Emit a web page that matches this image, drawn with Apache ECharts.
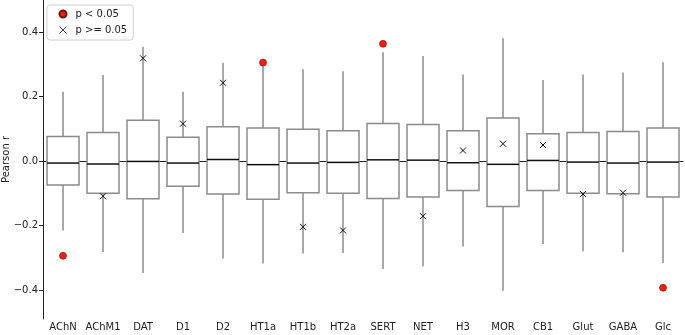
<!DOCTYPE html>
<html>
<head>
<meta charset="utf-8">
<script src="https://cdn.jsdelivr.net/npm/echarts@6/dist/echarts.min.js"></script>
<style>
  html, body { margin: 0; padding: 0; background: #fff; }
  #chart { width: 685px; height: 335px; }
</style>
</head>
<body>
<div id="chart"></div>
<script>
  const receptors = ['AChN', 'AChM1', 'DAT', 'D1', 'D2', 'HT1a', 'HT1b', 'HT2a', 'SERT', 'NET', 'H3', 'MOR', 'CB1', 'Glut', 'GABA', 'Glc']

  // null distribution summaries: [low whisker, q1, median, q3, high whisker]
  const whiskerLow = [-0.215, -0.282, -0.347, -0.223, -0.302, -0.318, -0.287, -0.285, -0.335, -0.326, -0.265, -0.402, -0.257, -0.280, -0.283, -0.316]
  const q1 = [-0.074, -0.100, -0.117, -0.078, -0.102, -0.118, -0.098, -0.100, -0.116, -0.111, -0.091, -0.141, -0.091, -0.100, -0.101, -0.111]
  const median = [-0.006, -0.009, -0.001, -0.006, 0.005, -0.011, -0.006, -0.004, 0.004, 0.003, -0.005, -0.010, 0.002, -0.003, -0.006, -0.003]
  const q3 = [0.076, 0.089, 0.127, 0.074, 0.107, 0.103, 0.099, 0.094, 0.117, 0.114, 0.094, 0.134, 0.085, 0.089, 0.092, 0.103]
  const whiskerHigh = [0.215, 0.267, 0.355, 0.215, 0.305, 0.300, 0.285, 0.279, 0.338, 0.326, 0.269, 0.381, 0.252, 0.269, 0.275, 0.307]

  // observed correlation and significance
  const observedR = [-0.294, -0.109, 0.319, 0.116, 0.243, 0.306, -0.204, -0.215, 0.364, -0.171, 0.033, 0.054, 0.050, -0.102, -0.098, -0.393]
  const significant = [true, false, false, false, false, true, false, false, true, false, false, false, false, false, false, true]

  const yTicks = [-0.4, -0.2, 0.0, 0.2, 0.4]

  const boxData = receptors.map((r, i) => [i, whiskerLow[i], q1[i], median[i], q3[i], whiskerHigh[i]])
  const sigData = []
  const nsData = []
  observedR.forEach((v, i) => {
    if (significant[i]) sigData.push([i, v])
    else nsData.push([i, v])
  })

  const boxGray = '#8c8c8c'
  const crossPath = 'path://M0,0L10,10M10,0L0,10'

  function renderBox(params, api) {
    const x = api.value(0)
    const lo = api.coord([x, api.value(1)])
    const b1 = api.coord([x, api.value(2)])
    const md = api.coord([x, api.value(3)])
    const b3 = api.coord([x, api.value(4)])
    const hi = api.coord([x, api.value(5)])
    const w = api.size([1, 0])[0] * 0.8
    const cx = lo[0]
    return {
      type: 'group',
      children: [
        { type: 'line', shape: { x1: cx, y1: b1[1], x2: cx, y2: lo[1] }, style: { stroke: boxGray, lineWidth: 1.5 } },
        { type: 'line', shape: { x1: cx, y1: b3[1], x2: cx, y2: hi[1] }, style: { stroke: boxGray, lineWidth: 1.5 } },
        { type: 'rect', shape: { x: cx - w / 2, y: b3[1], width: w, height: b1[1] - b3[1] }, style: { fill: '#fff', stroke: boxGray, lineWidth: 1.5 } },
        { type: 'line', shape: { x1: cx - w / 2, y1: md[1], x2: cx + w / 2, y2: md[1] }, style: { stroke: '#111', lineWidth: 1.5 } }
      ]
    }
  }

  const chart = echarts.init(document.getElementById('chart'))

  const option = {
    animation: false,
    textStyle: { fontFamily: 'DejaVu Sans' },
    grid: { left: 43, right: 2, top: 0, bottom: 16, outerBoundsMode: 'none' },
    legend: {
      data: [
        { name: 'p < 0.05', icon: 'circle' },
        { name: 'p >= 0.05', icon: crossPath, itemStyle: { borderWidth: 0.8 } }
      ],
      orient: 'vertical',
      left: 47,
      top: 5,
      itemWidth: 7,
      itemHeight: 7,
      itemGap: 5,
      padding: [4, 6, 4, 10],
      borderColor: '#d0d0d0',
      borderWidth: 1,
      borderRadius: 3,
      backgroundColor: '#fff',
      textStyle: { fontSize: 10, color: '#222', padding: [0, 0, 0, 4] }
    },
    xAxis: {
      type: 'category',
      data: receptors,
      boundaryGap: true,
      axisLine: { lineStyle: { color: '#222', width: 1 } },
      axisTick: { alignWithLabel: true, length: 4, lineStyle: { color: '#222' } },
      axisLabel: { fontSize: 10, color: '#222', margin: 3, interval: 0 }
    },
    yAxis: {
      type: 'value',
      min: -0.49,
      max: 0.5,
      name: 'Pearson r',
      nameLocation: 'middle',
      nameGap: 32,
      nameMoveOverlap: false,
      nameTextStyle: { fontSize: 10, color: '#222' },
      splitLine: { show: false },
      axisLine: { show: true, lineStyle: { color: '#222', width: 1 } },
      axisTick: { show: true, length: 4, customValues: yTicks, lineStyle: { color: '#222' } },
      axisLabel: {
        fontSize: 10,
        color: '#222',
        margin: 5,
        customValues: yTicks,
        formatter: v => (v < 0 ? '\u2212' : '') + Math.abs(v).toFixed(1)
      }
    },
    series: [
      {
        type: 'custom',
        name: 'null',
        renderItem: renderBox,
        encode: { x: 0, y: [1, 2, 3, 4, 5] },
        data: boxData,
        z: 1
      },
      {
        type: 'scatter',
        name: 'p < 0.05',
        data: sigData,
        symbol: 'circle',
        symbolSize: 7,
        itemStyle: { color: '#ff1a0a', borderColor: '#6b1a14', borderWidth: 0.6, opacity: 1 },
        z: 3
      },
      {
        type: 'scatter',
        name: 'p >= 0.05',
        data: nsData,
        symbol: crossPath,
        symbolSize: 6,
        itemStyle: { color: 'none', borderColor: '#111', borderWidth: 1, opacity: 1 },
        z: 3
      }
    ]
  }

  chart.setOption(option)
</script>
</body>
</html>
